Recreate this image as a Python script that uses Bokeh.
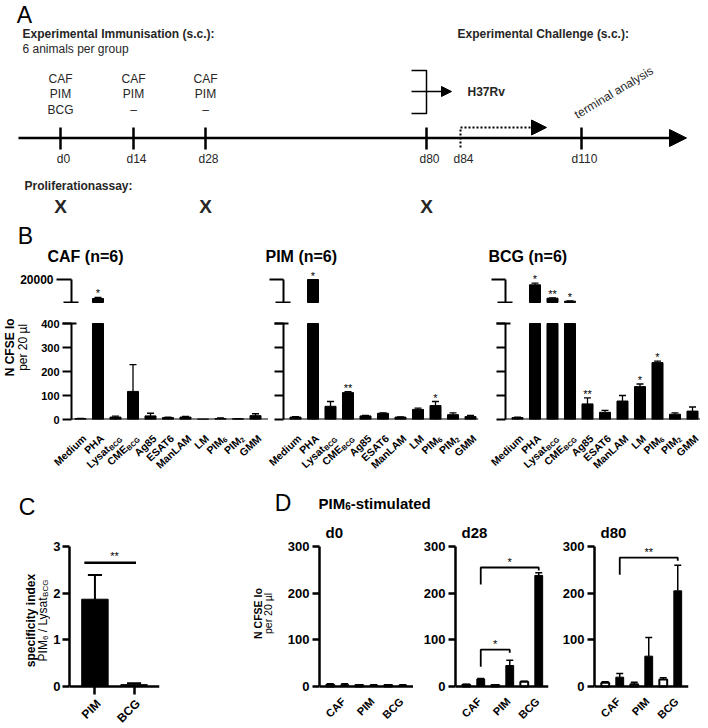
import math
from bokeh.plotting import figure
from bokeh.models import Range1d, LinearAxis, FixedTicker, Arrow, NormalHead
from bokeh.layouts import row, column
from bokeh.core.properties import value
from bokeh.embed import file_html
from bokeh.resources import INLINE

FONT = "Liberation Sans"
INK = "black"
SCHEME = "#262626"

# ---------------- data: panel A (schematic) ----------------
immunisation_days = ["d0", "d14", "d28"]
immunisation_d0 = ["CAF", "PIM", "BCG"]
immunisation_d14 = ["CAF", "PIM", "–"]
immunisation_d28 = ["CAF", "PIM", "–"]
timeline_days = ["d0", "d14", "d28", "d80", "d84", "d110"]
assay_days = ["d0", "d28", "d80"]

# ---------------- data: panel B ----------------
stim_main = ["Medium", "PHA", "Lysat", "CME", "Ag85", "ESAT6", "ManLAM", "LM", "PIM", "PIM", "GMM"]
stim_sub = ["", "", "BCG", "BCG", "", "", "", "", "6", "2", ""]
b_titles = ["CAF (n=6)", "PIM (n=6)", "BCG (n=6)"]
caf_mean = [4, 3900, 10, 117, 15, 8, 10, 2, 4, 3, 16]
caf_err = [1, 840, 4, 112, 11, 2, 3, 0, 3, 1, 8]
caf_sig = ["", "*", "", "", "", "", "", "", "", "", ""]
pim_mean = [10, 20000, 55, 112, 15, 26, 10, 42, 58, 20, 12]
pim_err = [2, 0, 20, 4, 2, 2, 1, 5, 17, 8, 5]
pim_sig = ["", "*", "", "**", "", "", "", "", "*", "", ""]
bcg_mean = [8, 15500, 4150, 1600, 65, 30, 77, 137, 237, 22, 35]
bcg_err = [2, 1360, 350, 200, 25, 8, 23, 11, 6, 6, 17]
bcg_sig = ["", "*", "**", "*", "**", "", "", "*", "*", "", ""]
b_low_ticks = [0, 100, 200, 300, 400]
b_high_tick = 20000
b_break_low = 400
b_break_high = 500

# ---------------- data: panel C ----------------
c_groups = ["PIM", "BCG"]
c_mean = [1.87, 0.04]
c_err = [0.52, 0.03]
c_ticks = [0, 1, 2, 3]
c_sig_level = 2.65
c_sig_label = "**"

# ---------------- data: panel D ----------------
d_groups = ["CAF", "PIM", "BCG"]
d_days = ["d0", "d28", "d80"]
d0_medium = [4, 3, 3]
d0_medium_err = [2, 1, 1]
d0_pim6 = [4, 3, 3]
d0_pim6_err = [2, 1, 1]
d28_medium = [4, 3, 10]
d28_medium_err = [1, 1, 1]
d28_pim6 = [16, 45, 238]
d28_pim6_err = [1, 11, 6]
d80_medium = [8, 5, 15]
d80_medium_err = [2, 4, 4]
d80_pim6 = [20, 65, 205]
d80_pim6_err = [8, 40, 55]
d_ticks = [0, 100, 200, 300]
# comparisons: (group a, group b, bracket level, label)
d0_sig = []
d28_sig = [(0, 2, 255, "*"), (0, 1, 79, "*")]
d80_sig = [(0, 2, 276, "**")]

# ---------------- text width estimate (Arial metrics) ----------------
_UP = "ABCDEFGHIJKLMNOPQRSTUVWXYZ"
_LO = "abcdefghijklmnopqrstuvwxyz"
_REG = dict(zip(_UP, [667, 667, 722, 722, 667, 611, 778, 722, 278, 500, 667, 556, 833, 722, 778, 667, 778, 722, 667, 611, 722, 667, 944, 667, 667, 611]))
_REG.update(zip(_LO, [556, 556, 500, 556, 556, 278, 556, 556, 222, 222, 500, 222, 833, 556, 556, 556, 556, 333, 500, 278, 556, 500, 722, 500, 500, 500]))
_BLD = dict(zip(_UP, [722, 722, 722, 722, 667, 611, 778, 722, 278, 556, 722, 611, 833, 722, 778, 667, 778, 722, 667, 611, 722, 667, 944, 667, 667, 611]))
_BLD.update(zip(_LO, [556, 611, 556, 611, 556, 333, 611, 611, 278, 278, 556, 278, 889, 611, 611, 611, 611, 389, 556, 333, 611, 556, 778, 556, 556, 500]))
for _t in (_REG, _BLD):
    _t.update({c: 556 for c in "0123456789"})
    _t.update({" ": 278, "(": 333, ")": 333, ".": 278, ":": 278, "/": 278, "-": 333, "=": 584, "*": 389, "µ": 556, "–": 556})


def text_w(s, size, bold):
    tb = _BLD if bold else _REG
    return sum(tb.get(ch, 556) for ch in s) * size / 1000.0


# ---------------- helpers ----------------
class Box:
    def __init__(self, fig, fx0, fy0, fw, fh, x0, x1, y0, y1):
        self.fig, self.fx0, self.fy0, self.fw, self.fh = fig, fx0, fy0, fw, fh
        self.x0, self.x1, self.y0, self.y1 = x0, x1, y0, y1

    def X(self, px):
        return self.x0 + (px - self.fx0) * (self.x1 - self.x0) / self.fw

    def Y(self, py):
        return self.y0 + (self.fy0 + self.fh - py) * (self.y1 - self.y0) / self.fh

    def dY(self, d):
        return d * (self.y1 - self.y0) / self.fh

    def PX(self, x):
        return self.fx0 + (x - self.x0) * self.fw / (self.x1 - self.x0)


def make_fig(w, h, xr, yr, l=0, r=0, t=0, b=0):
    p = figure(width=w, height=h, x_range=Range1d(*xr), y_range=Range1d(*yr),
               output_backend="svg", toolbar_location=None,
               x_axis_location=None, y_axis_location=None,
               min_border_left=l, min_border_right=r, min_border_top=t, min_border_bottom=b)
    p.outline_line_color = None
    p.background_fill_color = "white"
    p.border_fill_color = "white"
    for g in p.grid:
        g.visible = False
    return p


def canvas(px0, py0, w, h):
    p = make_fig(w, h, (0, w), (0, h))
    return Box(p, px0, py0, w, h, 0, w, 0, h)


def chart(px0, py0, w, h, l, r, xr, yr, b=0):
    p = make_fig(w, h, xr, yr, l=l, r=r, b=b)
    return Box(p, px0 + l, py0, w - l - r, h - b, xr[0], xr[1], yr[0], yr[1])


def txt(box, px, py, s, size, bold=False, align="left", angle=0.0, color=INK):
    box.fig.text(x=[box.X(px)], y=[box.Y(py)], text=[s], angle=angle,
                 text_align=align, text_baseline="middle", text_font=value(FONT),
                 text_font_size=f"{size}px", text_font_style="bold" if bold else "normal",
                 text_color=color)


def rich(box, segs, px, py, angle=0.0, align="left", color=INK):
    """Text made of runs (text, size, bold, shift-down px); (px, py) is on the middle line."""
    ca, sa = math.cos(angle), math.sin(angle)
    dx, dy = ca, -sa
    nx, ny = sa, ca
    segs = [s for s in segs if s[0]]
    if len(segs) == 1 and segs[0][3] == 0:
        t, s, b, _ = segs[0]
        txt(box, px, py, t, s, b, align, angle, color)
        return
    ws = [text_w(t, s, b) for t, s, b, _ in segs]
    tot = sum(ws)
    if align == "right":
        px -= tot * dx
        py -= tot * dy
    elif align == "center":
        px -= tot / 2 * dx
        py -= tot / 2 * dy
    for (t, s, b, sh), w in zip(segs, ws):
        lead = len(t) - len(t.lstrip(" "))
        adv = text_w(" " * lead, s, b)
        txt(box, px + adv * dx + sh * nx, py + adv * dy + sh * ny, t.strip(" "), s, b, "left", angle, color)
        px += w * dx
        py += w * dy


def axis_common(**kw):
    base = dict(axis_line_width=2, axis_line_color=INK, major_tick_line_width=2, major_tick_line_color=INK,
                minor_tick_line_width=2, minor_tick_line_color=INK, major_tick_in=0,
                major_label_text_font=FONT, major_label_text_font_style="bold",
                major_label_text_color=INK)
    base.update(kw)
    return base


# ================= PANEL A (schematic, row 1) =================
A = canvas(0, 0, 700, 268)
timeline_px = dict(zip(timeline_days, [60, 133, 205, 426, 460, 581]))
TL_Y = 137.5

txt(A, 24, 14, "A", 23, False, "center")
txt(A, 22, 33, "Experimental Immunisation (s.c.):", 12, True, color=SCHEME)
txt(A, 22, 48, "6 animals per group", 12, False, color=SCHEME)
txt(A, 457, 33, "Experimental Challenge (s.c.):", 12, True, color=SCHEME)
for day, items in zip(immunisation_days, [immunisation_d0, immunisation_d14, immunisation_d28]):
    for k, it in enumerate(items):
        txt(A, timeline_px[day], 78 + 15.5 * k, it, 12, False, "center", color=SCHEME)

A.fig.add_layout(Arrow(end=NormalHead(size=17, fill_color=INK, line_color=INK),
                       x_start=A.X(18), y_start=A.Y(TL_Y), x_end=A.X(686), y_end=A.Y(TL_Y),
                       line_color=INK, line_width=2.5))
solid_days = [d for d in timeline_days if d != "d84"]
A.fig.segment(x0=[A.X(timeline_px[d]) for d in solid_days], y0=[A.Y(127)] * len(solid_days),
              x1=[A.X(timeline_px[d]) for d in solid_days], y1=[A.Y(149)] * len(solid_days),
              line_color=INK, line_width=2.5)
for d in timeline_days:
    txt(A, timeline_px[d] + 3, 158, d, 12, False, "center", color=SCHEME)

x84 = timeline_px["d84"]
A.fig.segment(x0=[A.X(x84)], y0=[A.Y(129)], x1=[A.X(x84)], y1=[A.Y(148)],
              line_color=INK, line_width=2, line_dash="2 2")
A.fig.add_layout(Arrow(end=NormalHead(size=15, fill_color=INK, line_color=INK),
                       x_start=A.X(x84), y_start=A.Y(127), x_end=A.X(546), y_end=A.Y(127),
                       line_color=INK, line_width=2, line_dash="2 2"))

x80 = timeline_px["d80"]
A.fig.line(x=[A.X(x80 - 15), A.X(x80), A.X(x80), A.X(x80 - 15)],
           y=[A.Y(70), A.Y(70), A.Y(113), A.Y(113)], line_color=INK, line_width=1.5)
A.fig.add_layout(Arrow(end=NormalHead(size=10, fill_color=INK, line_color=INK),
                       x_start=A.X(x80 - 15), y_start=A.Y(91), x_end=A.X(x80 + 25), y_end=A.Y(91),
                       line_color=INK, line_width=1.5))
txt(A, 467, 91, "H37Rv", 12, True, color=SCHEME)
txt(A, timeline_px["d110"] - 6, 115, "terminal analysis", 12, False, "left", 0.54, SCHEME)

txt(A, 24, 185, "Proliferationassay:", 12, True, color=SCHEME)
for d in assay_days:
    txt(A, timeline_px[d], 206, "X", 19, True, "center", color=SCHEME)

txt(A, 25, 235, "B", 23, False, "center")
for t, xpx in zip(b_titles, [47, 265, 488]):
    txt(A, xpx, 256, t, 16, True)

# ================= PANEL B (row 2) =================
B_UNIT, B_ZERO, B_PPU = 17.5, 419, 0.24
UP_Y0, UP_H, LO_Y0, LO_H, LO_BB = 268, 35, 303, 127, 11
LAB_Y0, LAB_H = LO_Y0 + LO_H, 45
up_ppu = 23.0 / (b_high_tick - b_break_high)   # 20000 at 279 px, 500 at 302 px


def b_xr(fw, first):
    s = -first / B_UNIT
    return (s, s + fw / B_UNIT)


up_yr = (b_break_high - (UP_Y0 + UP_H - 302) / up_ppu, b_break_high + (302 - UP_Y0) / up_ppu)
lo_yr = (0, (B_ZERO - LO_Y0) / B_PPU)

b_labels = canvas(0, LAB_Y0, 700, LAB_H)


def b_panel(up, low, mean, err, sig, labelled):
    n = len(mean)
    xs = list(range(n))
    up_kw = dict(major_tick_out=15, minor_tick_in=7, minor_tick_out=8, major_label_standoff=3,
                 major_label_text_font_size="12px")
    lo_kw = dict(major_tick_out=9, minor_tick_in=5, minor_tick_out=9, major_label_standoff=3,
                 major_label_text_font_size="11px")
    if not labelled:
        up_kw.update(major_tick_out=14, major_label_standoff=0, major_label_overrides={b_high_tick: ""})
        lo_kw.update(major_label_standoff=0, major_label_overrides={t: "" for t in b_low_ticks})
    up.fig.add_layout(LinearAxis(ticker=FixedTicker(ticks=[b_high_tick], minor_ticks=[b_break_high]),
                                 bounds=(b_break_high, b_high_tick), **axis_common(**up_kw)), "left")
    low.fig.add_layout(LinearAxis(ticker=FixedTicker(ticks=b_low_ticks, minor_ticks=[b_break_low]),
                                  bounds=(0, b_break_low), **axis_common(**lo_kw)), "left")
    low.fig.add_layout(LinearAxis(ticker=FixedTicker(ticks=xs), fixed_location=0,
                                  **axis_common(major_tick_out=10, minor_tick_line_color=None,
                                                major_label_standoff=0,
                                                major_label_overrides={i: "" for i in xs})), "below")
    low.fig.vbar(x=xs, bottom=0, top=[min(m, b_break_low) for m in mean], width=0.63,
                 fill_color=INK, line_color=INK, line_width=1)
    hi = [i for i in xs if mean[i] > b_break_high]
    up.fig.vbar(x=hi, bottom=b_break_high, top=[min(mean[i], b_high_tick) for i in hi], width=0.63,
                fill_color=INK, line_color=INK, line_width=1)
    for box, idx in ((up, hi), (low, [i for i in xs if mean[i] <= b_break_high])):
        idx = [i for i in idx if err[i] > 0]
        box.fig.segment(x0=idx, y0=[mean[i] for i in idx], x1=idx, y1=[mean[i] + err[i] for i in idx],
                        line_color=INK, line_width=1.3)
        box.fig.segment(x0=[i - 0.2 for i in idx], y0=[mean[i] + err[i] for i in idx],
                        x1=[i + 0.2 for i in idx], y1=[mean[i] + err[i] for i in idx],
                        line_color=INK, line_width=1.3)
    for i in xs:
        if not sig[i]:
            continue
        box = up if mean[i] > b_break_high else low
        topv = min(mean[i] + err[i], b_high_tick)
        box.fig.text(x=[i], y=[topv + box.dY(4)], text=[sig[i]], text_align="center",
                     text_baseline="middle", text_font=value(FONT), text_font_size="11px",
                     text_color=INK)
    for i in xs:
        segs = [(stim_main[i], 10.5, True, 0), (stim_sub[i], 7, True, 2.8)]
        rich(b_labels, segs, low.PX(i) + 4, B_ZERO + 17, 0.75, "right")


# (upper x0, width, left, right | lower x0, width, left, right | first tick offset)
b_specs = [
    (0, 268, 71, 0, 38, 230, 33, 0, 9, caf_mean, caf_err, caf_sig, True),
    (268, 222, 15, 12, 268, 222, 15, 12, 12, pim_mean, pim_err, pim_sig, False),
    (490, 210, 15, 0, 490, 210, 15, 0, 12, bcg_mean, bcg_err, bcg_sig, False),
]
b_up, b_low = [], []
for (ux, uw, ul, ur, lx, lw, ll, lr, first, mean, err, sig, labelled) in b_specs:
    up = chart(ux, UP_Y0, uw, UP_H, ul, ur, b_xr(uw - ul - ur, first), up_yr)
    low = chart(lx, LO_Y0, lw, LO_H, ll, lr, b_xr(lw - ll - lr, first), lo_yr, b=LO_BB)
    b_panel(up, low, mean, err, sig, labelled)
    b_up.append(up.fig)
    b_low.append(low.fig)

b_strip = canvas(0, LO_Y0, 38, LO_H)
rich(b_strip, [("N CFSE lo", 12, True, 0)], 9, 351, math.pi / 2, "center")
rich(b_strip, [("per 20 µl", 12, False, 0)], 22, 351, math.pi / 2, "center")

rowB = column(row(*b_up), row(b_strip.fig, *b_low), b_labels.fig)

# ================= PANEL C and D (row 3) =================
HEAD_Y0 = LAB_Y0 + LAB_H
CH_Y0, CH_H, CD_ZERO = 522, 204, 686
HEAD_H = CH_Y0 - HEAD_Y0

# ---- C ----
C_PPU, C_UNIT = 140 / 3.0, 40.0
c_head = canvas(0, HEAD_Y0, 250, HEAD_H)
txt(c_head, 26.5, 506.5, "C", 23, False, "center")
c_strip = canvas(0, CH_Y0, 50, CH_H)
rich(c_strip, [("specificity index", 12, True, 0)], 30, 620, math.pi / 2, "center")
rich(c_strip, [("PIM", 12, False, 0), ("6", 8, False, 3), (" / Lysat", 12, False, 0), ("BCG", 8, False, 3)],
     42, 620, math.pi / 2, "center")
c_fw = 92
c_xr = (-26 / C_UNIT, -26 / C_UNIT + c_fw / C_UNIT)
c_yr = (-(CH_Y0 + CH_H - CD_ZERO) / C_PPU, (CD_ZERO - CH_Y0) / C_PPU)
C = chart(50, CH_Y0, 200, CH_H, 17, 91, c_xr, c_yr)
cx = list(range(len(c_groups)))
C.fig.add_layout(LinearAxis(ticker=FixedTicker(ticks=c_ticks), bounds=(0, 3),
                            **axis_common(axis_line_width=2.5, major_tick_line_width=2.5, major_tick_out=7,
                                          minor_tick_line_color=None, major_label_standoff=2,
                                          major_label_text_font_size="13px")), "left")
C.fig.add_layout(LinearAxis(ticker=FixedTicker(ticks=cx), fixed_location=0,
                            **axis_common(axis_line_width=2.5, major_tick_line_width=2.5, major_tick_out=8,
                                          minor_tick_line_color=None, major_label_standoff=0,
                                          major_label_overrides={i: "" for i in cx})), "below")
C.fig.vbar(x=cx, bottom=0, top=c_mean, width=0.675, fill_color=INK, line_color=INK)
c_tops = [m + e for m, e in zip(c_mean, c_err)]
C.fig.segment(x0=cx, y0=c_mean, x1=cx, y1=c_tops, line_color=INK, line_width=2)
C.fig.segment(x0=[i - 0.18 for i in cx], y0=c_tops, x1=[i + 0.18 for i in cx], y1=c_tops,
              line_color=INK, line_width=2)
C.fig.segment(x0=[-0.27], y0=[c_sig_level], x1=[1.05], y1=[c_sig_level], line_color=INK, line_width=2.5)
C.fig.text(x=[0.5], y=[c_sig_level + C.dY(7)], text=[c_sig_label], text_align="center", text_baseline="middle",
           text_font=value(FONT), text_font_size="11px", text_color=INK)
for i, g in enumerate(c_groups):
    rich(C, [(g, 12, True, 0)], C.PX(i) + 4, CD_ZERO + 15, math.pi / 4, "right")

# ---- D ----
D_PPU, D_UNIT, D_FIRST = 140 / 300.0, 29.0, 18
d_head = canvas(250, HEAD_Y0, 450, HEAD_H)
txt(d_head, 282.5, 502.5, "D", 23, False, "center")
rich(d_head, [("PIM", 15, True, 0), ("6", 10, True, 2.5), ("-stimulated", 15, True, 0)], 318, 503, 0, "left")
d_strip = canvas(250, CH_Y0, 26, CH_H)
rich(d_strip, [("N CFSE lo", 10.5, True, 0)], 257, 613, math.pi / 2, "center")
rich(d_strip, [("per 20 µl", 10.5, False, 0)], 267, 613, math.pi / 2, "center")

d_yr = (-(CH_Y0 + CH_H - CD_ZERO) / D_PPU, (CD_ZERO - CH_Y0) / D_PPU)
d_specs = [
    (276, 137, 43, 0, d0_medium, d0_medium_err, d0_pim6, d0_pim6_err, d0_sig),
    (413, 138, 42, 3, d28_medium, d28_medium_err, d28_pim6, d28_pim6_err, d28_sig),
    (551, 149, 43, 12, d80_medium, d80_medium_err, d80_pim6, d80_pim6_err, d80_sig),
]
d_figs = []
gx = list(range(len(d_groups)))
for day, (x0, w, l, r, med, med_e, pim, pim_e, sigs) in zip(d_days, d_specs):
    fw = w - l - r
    xr = (-D_FIRST / D_UNIT, -D_FIRST / D_UNIT + fw / D_UNIT)
    D = chart(x0, CH_Y0, w, CH_H, l, r, xr, d_yr)
    D.fig.add_layout(LinearAxis(ticker=FixedTicker(ticks=d_ticks), bounds=(0, 300),
                                **axis_common(axis_line_width=2.5, major_tick_line_width=2.5, major_tick_out=7,
                                              minor_tick_line_color=None, major_label_standoff=3,
                                              major_label_text_font_size="13px")), "left")
    D.fig.add_layout(LinearAxis(ticker=FixedTicker(ticks=[]), fixed_location=0,
                                **axis_common(axis_line_width=2.5, major_tick_out=0,
                                              minor_tick_line_color=None, major_label_standoff=0)), "below")
    for off, vals, errs, fill, lw in ((-0.25, med, med_e, "white", 2), (0.25, pim, pim_e, INK, 1)):
        xs = [g + off for g in gx]
        tops = [v + e for v, e in zip(vals, errs)]
        D.fig.segment(x0=xs, y0=vals, x1=xs, y1=tops, line_color=INK, line_width=1.5)
        D.fig.segment(x0=[x - 0.12 for x in xs], y0=tops, x1=[x + 0.12 for x in xs], y1=tops,
                      line_color=INK, line_width=1.5)
        D.fig.vbar(x=xs, bottom=0, top=vals, width=0.27, fill_color=fill, line_color=INK, line_width=lw)
    for (ga, gb, lvl, lab) in sigs:
        xl, xr2 = ga + 0.25, gb + 0.25
        D.fig.line(x=[xl, xl, xr2, xr2], y=[lvl - D.dY(17), lvl, lvl, lvl - D.dY(3)],
                   line_color=INK, line_width=1.8)
        D.fig.text(x=[(xl + xr2) / 2], y=[lvl + D.dY(6)], text=[lab], text_align="center",
                   text_baseline="middle", text_font=value(FONT), text_font_size="11px", text_color=INK)
    txt(D, D.fx0 + 6, 532, day, 15, True)
    for i, g in enumerate(d_groups):
        rich(D, [(g, 11, True, 0)], D.PX(i) + 6, CD_ZERO + 13, math.pi / 4, "right")
    d_figs.append(D.fig)

c_block = column(c_head.fig, row(c_strip.fig, C.fig))
d_block = column(d_head.fig, row(d_strip.fig, *d_figs))
rowCD = row(c_block, d_block)

layout = column(A.fig, rowB, rowCD)
open("out.html", "w").write(file_html(layout, INLINE))
